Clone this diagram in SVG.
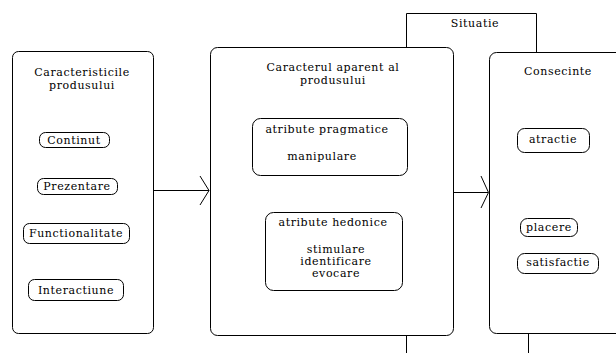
<svg xmlns="http://www.w3.org/2000/svg" width="616" height="353" viewBox="0 0 616 353">
<style>
.box{fill:#fff;stroke:#000;stroke-width:1}
.pill{fill:#fff;stroke:#000;stroke-width:1}
.ln{fill:none;stroke:#000;stroke-width:1}
.t{font-family:'DejaVu Serif',serif;font-size:11px;letter-spacing:0.6px;text-anchor:middle;fill:#000}
</style>
<rect width="616" height="353" fill="#fff"/>
<g id="connectors">
<path class="ln" d="M406.5,47 V13.5 H536.5 V52"/>
<path class="ln" d="M406.5,335 V353"/>
<path class="ln" d="M528.5,333 V353"/>
<path class="ln" d="M153,190.5 H209"/>
<path class="ln" d="M200,176 L209,190.5 L200,205"/>
<path class="ln" d="M453,192.5 H488"/>
<path class="ln" d="M481,176 L488.5,192.5 L481,208"/>
</g>
<g class="t">
<g id="situatie">
<text x="475" y="27">Situatie</text>
</g>
<g id="caracteristici">
<rect class="box" x="12.5" y="51.5" width="141" height="282" rx="6"/>
<text x="82" y="76">Caracteristicile</text>
<text x="82" y="89">produsului</text>
<g id="continut"><rect class="pill" x="39.5" y="132.5" width="70" height="15" rx="6"/><text x="74" y="144">Continut</text></g>
<g id="prezentare"><rect class="pill" x="37.5" y="178.5" width="80" height="16" rx="6"/><text x="77" y="190">Prezentare</text></g>
<g id="functionalitate"><rect class="pill" x="23.5" y="223.5" width="106" height="20" rx="6"/><text x="76" y="237">Functionalitate</text></g>
<g id="interactiune"><rect class="pill" x="28.5" y="279.5" width="95" height="21" rx="6"/><text x="76" y="294">Interactiune</text></g>
</g>
<g id="caracter">
<rect class="box" x="210.5" y="47.5" width="243" height="288" rx="7"/>
<text x="333" y="71">Caracterul aparent al</text>
<text x="333" y="84">produsului</text>
<g id="pragmatice"><rect class="pill" x="252.5" y="118.5" width="155" height="57" rx="8"/>
<text x="327" y="133">atribute pragmatice</text>
<text x="322" y="160">manipulare</text></g>
<g id="hedonice"><rect class="pill" x="265.5" y="212.5" width="137" height="78" rx="8"/>
<text x="333" y="226">atribute hedonice</text>
<text x="336" y="253">stimulare</text>
<text x="336" y="265">identificare</text>
<text x="336" y="277">evocare</text></g>
</g>
<g id="consecinte">
<rect class="box" x="489.5" y="52.5" width="140" height="281" rx="7"/>
<text x="558" y="75">Consecinte</text>
<g id="atractie"><rect class="pill" x="517.5" y="128.5" width="72" height="24" rx="7"/><text x="553" y="143">atractie</text></g>
<g id="placere"><rect class="pill" x="520.5" y="218.5" width="57" height="18" rx="7"/><text x="549" y="231">placere</text></g>
<g id="satisfactie"><rect class="pill" x="517.5" y="253.5" width="81" height="20" rx="7"/><text x="558" y="266">satisfactie</text></g>
</g>
</g>
</svg>
